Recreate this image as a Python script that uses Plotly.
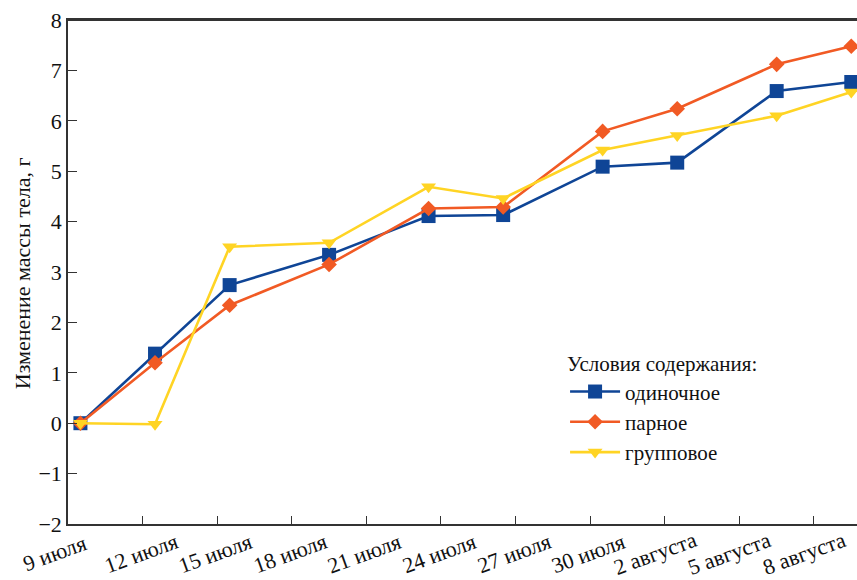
import plotly.graph_objects as go

# Days since 9 July for each measurement
days = [0.5, 3.5, 6.5, 10.5, 14.5, 17.5, 21.5, 24.5, 28.5, 31.5]

single = [0, 1.38, 2.74, 3.34, 4.11, 4.13, 5.09, 5.17, 6.59, 6.77]
paired = [0, 1.20, 2.34, 3.15, 4.26, 4.29, 5.79, 6.24, 7.12, 7.48]
group = [0, -0.02, 3.50, 3.58, 4.69, 4.46, 5.42, 5.71, 6.10, 6.57]

tick_days = [0, 3, 6, 9, 12, 15, 18, 21, 24, 27, 30]
tick_labels = ["9 июля", "12 июля", "15 июля", "18 июля", "21 июля", "24 июля",
               "27 июля", "30 июля", "2 августа", "5 августа", "8 августа"]

series_names = ["одиночное", "парное", "групповое"]
colors = ["#0F4596", "#F15A24", "#FFD424"]
symbols = ["square", "diamond", "triangle-down"]
sizes = [14, 12, 13]

FONT = "Liberation Serif, Times New Roman, serif"
FS = 22
Y_RANGE = [-2, 8]

fig = go.Figure()
for name, vals, c, s, sz in zip(series_names, [single, paired, group], colors, symbols, sizes):
    fig.add_trace(go.Scatter(
        x=days, y=vals, name=name, mode="lines+markers",
        line=dict(color=c, width=2.6),
        marker=dict(symbol=s, size=sz, color=c),
        cliponaxis=False,
    ))

annotations = []
for i, (d, lab) in enumerate(zip(tick_days, tick_labels)):
    annotations.append(dict(
        x=d, y=-0.058, xref="x", yref="paper", text=lab, showarrow=False,
        textangle=-20, xanchor="center", yanchor="middle",
        xshift=-14 if i == 0 else (-10 if "август" in lab else -2),
        font=dict(family=FONT, size=FS, color="#111"),
    ))
annotations.append(dict(
    x=-0.058, y=0.498, xref="paper", yref="paper", text="Изменение массы тела, г",
    showarrow=False, textangle=-90, xanchor="center", yanchor="middle",
    font=dict(family=FONT, size=FS, color="#111"),
))

fig.update_layout(
    width=857, height=580,
    margin=dict(l=68, r=0, t=20, b=56),
    plot_bgcolor="white", paper_bgcolor="white",
    font=dict(family=FONT, size=FS, color="#111"),
    showlegend=True,
    legend=dict(
        x=0.63, y=0.357, xanchor="left", yanchor="top",
        bgcolor="rgba(0,0,0,0)",
        title=dict(text="Условия содержания:", font=dict(family=FONT, size=21, color="#111")),
        font=dict(family=FONT, size=21, color="#111"),
        tracegroupgap=0, itemwidth=50,
    ),
    annotations=annotations,
    shapes=[dict(type="line", xref="x domain", yref="y", x0=0, x1=1,
                 y0=Y_RANGE[1], y1=Y_RANGE[1],
                 layer="above", line=dict(color="#333333", width=2))],
)
fig.update_xaxes(
    range=[0, 31.73], tickvals=tick_days, showticklabels=False,
    ticks="inside", ticklen=8, tickwidth=1.3, tickcolor="#333",
    showline=True, linecolor="#333", linewidth=1.5, mirror=True,
    showgrid=False, zeroline=False,
)
fig.update_yaxes(
    range=Y_RANGE, dtick=1, tick0=0,
    ticks="inside", ticklen=9, tickwidth=1.3, tickcolor="#333",
    showline=True, linecolor="#333", linewidth=1.5,
    showgrid=False, zeroline=False, ticklabeloverflow="allow",
    tickfont=dict(family=FONT, size=FS, color="#111"),
)

# remove the default 8px page margin so the figure fills the window exactly
fig.write_html("out.html", config={"displayModeBar": False},
               post_script="document.body.style.margin='0';")
